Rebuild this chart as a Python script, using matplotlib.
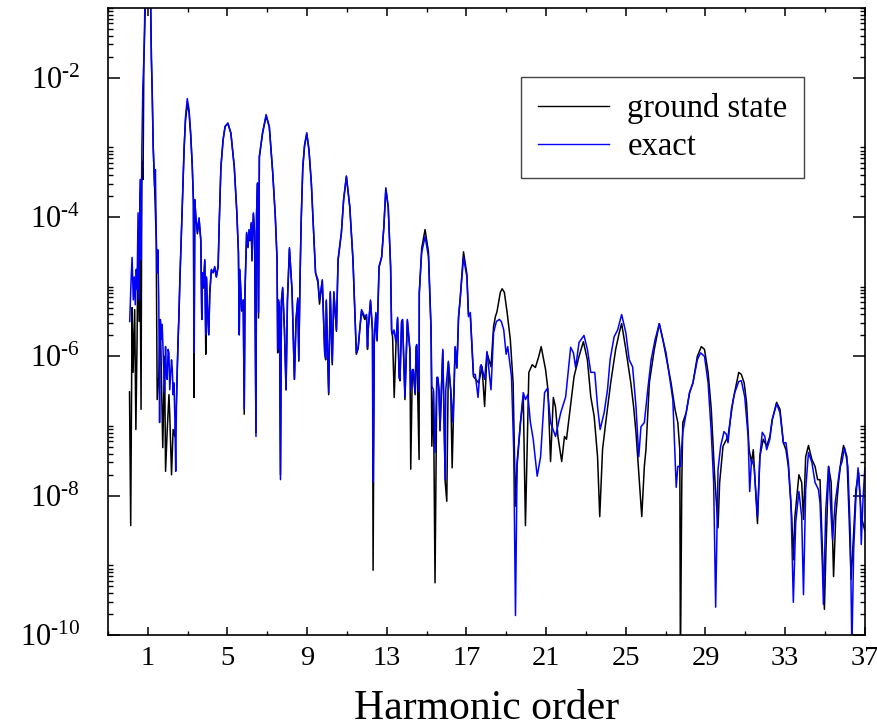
import numpy as np
import matplotlib
matplotlib.use("Agg")
import matplotlib.pyplot as plt
from matplotlib.ticker import FixedLocator, NullFormatter

plt.rcParams['font.family'] = ['Liberation Serif', 'DejaVu Serif']
plt.rcParams['mathtext.fontset'] = 'custom'
plt.rcParams['mathtext.rm'] = 'Liberation Serif'
plt.rcParams['mathtext.it'] = 'Liberation Serif:italic'

# HHG spectra: harmonic order vs. log10 of the spectral intensity
exact_order = [
    0.09, 0.16, 0.21, 0.27, 0.32, 0.37, 0.42, 0.46, 0.51, 0.56, 0.60, 0.63, 0.66, 0.70,
    0.75, 0.80, 0.83, 0.87, 0.95, 1.00, 1.08, 1.14, 1.18, 1.22, 1.27, 1.34, 1.38, 1.42,
    1.47, 1.50, 1.55, 1.59, 1.63, 1.67, 1.72, 1.78, 1.84, 1.89, 1.93, 1.97, 2.02, 2.06,
    2.10, 2.14, 2.19, 2.23, 2.27, 2.31, 2.36, 2.40, 2.44, 2.48, 2.52, 2.56, 2.61, 2.66,
    2.74, 2.82, 2.89, 2.98, 3.07, 3.15, 3.23, 3.29, 3.32, 3.36, 3.41, 3.49, 3.57, 3.66,
    3.71, 3.74, 3.79, 3.86, 3.91, 3.94, 3.99, 4.06, 4.11, 4.19, 4.28, 4.36, 4.44, 4.53,
    4.58, 4.67, 4.78, 4.88, 5.02, 5.17, 5.34, 5.47, 5.55, 5.59, 5.62, 5.71, 5.79, 5.84,
    5.88, 5.96, 6.03, 6.08, 6.13, 6.19, 6.23, 6.30, 6.36, 6.43, 6.46, 6.51, 6.56, 6.60,
    6.76, 6.94, 7.10, 7.27, 7.40, 7.49, 7.52, 7.56, 7.61, 7.66, 7.71, 7.77, 7.86, 7.94,
    8.01, 8.11, 8.24, 8.36, 8.44, 8.53, 8.58, 8.64, 8.70, 8.78, 8.87, 8.98, 9.09, 9.21,
    9.32, 9.42, 9.54, 9.62, 9.76, 9.88, 9.93, 9.96, 10.08, 10.16, 10.26, 10.34, 10.47,
    10.55, 10.72, 10.83, 10.97, 11.14, 11.30, 11.47, 11.56, 11.64, 11.73, 11.89, 11.98,
    12.03, 12.06, 12.18, 12.28, 12.31, 12.37, 12.45, 12.51, 12.61, 12.74, 12.85, 12.95,
    13.07, 13.19, 13.24, 13.29, 13.36, 13.46, 13.54, 13.62, 13.66, 13.74, 13.79, 13.82,
    13.91, 14.03, 14.16, 14.20, 14.28, 14.33, 14.42, 14.47, 14.50, 14.62, 14.63, 14.75,
    14.92, 15.09, 15.22, 15.26, 15.34, 15.42, 15.51, 15.56, 15.62, 15.67, 15.81, 15.93,
    15.96, 16.09, 16.21, 16.32, 16.43, 16.52, 16.60, 16.68, 16.85, 17.02, 17.10, 17.19,
    17.35, 17.44, 17.58, 17.69, 17.74, 17.91, 18.03, 18.23, 18.36, 18.50, 18.65, 18.75,
    18.87, 18.99, 19.07, 19.26, 19.37, 19.46, 19.54, 19.71, 19.85, 19.96, 20.08, 20.21,
    20.35, 20.55, 20.72, 20.92, 21.06, 21.22, 21.47, 21.73, 21.98, 22.23, 22.37, 22.48,
    22.65, 22.90, 23.07, 23.24, 23.44, 23.58, 23.71, 23.91, 24.08, 24.21, 24.41, 24.59,
    24.79, 25.00, 25.17, 25.34, 25.51, 25.65, 25.76, 25.93, 26.10, 26.27, 26.47, 26.68,
    26.86, 27.02, 27.19, 27.36, 27.53, 27.61, 27.74, 27.86, 28.03, 28.20, 28.37, 28.59,
    28.75, 28.95, 29.13, 29.29, 29.41, 29.51, 29.63, 29.76, 29.93, 30.05, 30.13, 30.30,
    30.47, 30.67, 30.80, 30.97, 31.14, 31.22, 31.31, 31.44, 31.61, 31.73, 31.85, 31.98,
    32.07, 32.23, 32.35, 32.57, 32.74, 32.91, 33.04, 33.16, 33.29, 33.41, 33.53, 33.69,
    33.83, 33.92, 34.03, 34.17, 34.34, 34.50, 34.67, 34.75, 34.87, 34.92, 35.04, 35.18,
    35.31, 35.38, 35.51, 35.65, 35.76, 35.85, 35.98, 36.15, 36.27, 36.35, 36.44, 36.55,
    36.66, 36.77, 36.82, 36.91, 37.00,
]
exact_log10 = [
    -5.50, -4.90, -4.58, -5.19, -4.86, -5.26, -4.75, -5.04, -3.94, -5.19, -3.75, -3.46, -4.61, -3.03,
    -2.13, -1.74, -1.35, -0.59, -0.02, -0.31, -0.16, -0.88, -1.74, -2.22, -2.99, -3.56, -3.32, -4.22,
    -4.80, -4.47, -5.19, -6.95, -5.47, -5.76, -5.54, -6.05, -6.52, -5.86, -6.26, -6.33, -5.90, -5.95,
    -6.48, -6.29, -6.05, -6.19, -6.55, -6.38, -6.91, -7.65, -6.62, -6.15, -5.76, -5.43, -4.90, -4.47,
    -3.75, -3.03, -2.57, -2.30, -2.46, -2.79, -3.25, -3.75, -5.95, -3.75, -3.99, -4.22, -4.01, -4.32,
    -5.47, -4.80, -5.00, -4.61, -5.69, -4.86, -5.29, -5.69, -5.08, -4.75, -4.80, -4.71, -4.86, -4.71,
    -4.14, -3.28, -2.89, -2.70, -2.65, -2.79, -3.28, -3.94, -4.51, -5.69, -4.75, -5.33, -5.19, -6.76,
    -5.04, -4.22, -4.42, -4.18, -4.32, -4.08, -4.61, -3.94, -4.22, -7.15, -3.94, -3.51, -5.37, -3.13,
    -2.79, -2.53, -2.70, -3.36, -3.99, -4.61, -5.90, -5.19, -5.29, -7.77, -5.19, -5.01, -5.62, -6.48,
    -5.19, -4.44, -5.04, -6.33, -5.47, -5.16, -6.05, -4.90, -4.04, -3.28, -2.96, -2.79, -3.03, -3.51,
    -4.18, -4.80, -4.90, -5.19, -4.90, -5.95, -6.02, -5.19, -6.52, -5.07, -6.09, -5.07, -5.62,
    -4.61, -4.22, -3.75, -3.41, -3.85, -4.61, -5.95, -5.87, -5.62, -5.33, -5.43, -5.40,
    -5.86, -5.62, -5.19, -5.62, -7.81, -5.76, -5.37, -5.76, -4.71, -4.57, -4.14, -3.58,
    -3.85, -4.71, -5.62, -5.69, -5.62, -5.80, -5.44, -6.29, -6.33, -5.50, -5.47, -5.76,
    -6.58, -5.47, -5.90, -6.48, -6.19, -6.19, -6.52, -5.86, -5.83, -6.51, -5.08, -4.51,
    -4.28, -4.57, -5.62, -6.43, -6.48, -7.38, -6.30, -6.30, -6.48, -7.05, -5.90, -7.77,
    -6.48, -6.07, -6.48, -6.95, -5.86, -6.15, -5.43, -5.19, -4.58, -4.86, -5.43, -5.37,
    -6.26, -6.26, -6.59, -6.15, -6.12, -6.33, -5.93, -6.48, -5.66, -5.50, -5.47, -5.50,
    -5.62, -5.97, -5.86, -6.29, -7.34, -9.72, -7.58, -6.95, -6.52, -6.62, -6.55, -6.95,
    -7.19, -7.72, -7.44, -6.52, -6.46, -6.95, -7.15, -6.81, -6.58, -5.87, -5.95, -6.16,
    -5.80, -5.70, -5.90, -6.23, -6.23, -6.72, -7.05, -6.81, -6.48, -6.05, -5.72, -5.62,
    -5.40, -5.66, -6.05, -6.15, -6.72, -7.44, -7.01, -6.95, -6.48, -6.05, -5.76, -5.53,
    -5.76, -5.95, -6.29, -6.62, -7.88, -7.58, -7.58, -7.09, -6.81, -6.52, -6.38, -6.05,
    -5.95, -6.00, -6.38, -7.09, -7.81, -9.60, -7.62, -7.29, -7.08, -7.12, -7.24, -6.76,
    -6.52, -6.36, -6.35, -6.58, -7.15, -7.94, -7.48, -7.58, -8.30, -7.44, -7.09, -7.15,
    -7.34, -7.19, -6.91, -6.68, -6.81, -7.24, -7.24, -7.52, -8.10, -9.53, -8.38, -7.94,
    -8.30, -9.42, -7.91, -7.38, -7.52, -7.81, -7.91, -8.10, -9.02, -9.56, -8.20, -7.58,
    -8.30, -8.63, -8.10, -7.81, -7.58, -7.52, -7.31, -7.58, -8.53, -10.20, -8.77, -8.05,
    -7.60, -8.05, -8.70, -8.05, -7.60,
]

ground_order = [
    0.08, 0.14, 0.21, 0.26, 0.34, 0.40, 0.46, 0.51, 0.56, 0.60, 0.66, 0.70, 0.76, 0.80,
    0.85, 0.95, 1.00, 1.05, 1.14, 1.18, 1.22, 1.27, 1.34, 1.42, 1.47, 1.55, 1.63, 1.75,
    1.84, 1.89, 1.97, 2.06, 2.10, 2.19, 2.27, 2.36, 2.44,
    2.52, 2.56, 2.61, 2.66, 2.74, 2.82, 2.89, 2.98, 3.07, 3.15, 3.23, 3.29, 3.32, 3.36,
    3.41, 3.49, 3.57, 3.66, 3.71, 3.74, 3.79, 3.86, 3.91, 3.94, 3.99, 4.06, 4.11, 4.19,
    4.28, 4.36, 4.44, 4.53, 4.58, 4.67, 4.78, 4.88, 5.02, 5.17, 5.34, 5.47, 5.55, 5.59,
    5.62, 5.71, 5.79, 5.84, 5.88, 5.96, 6.03, 6.08, 6.13, 6.19, 6.23, 6.30, 6.36, 6.43,
    6.46, 6.51, 6.56, 6.60, 6.76, 6.94, 7.10, 7.27, 7.40, 7.49, 7.52, 7.56, 7.61, 7.66,
    7.71, 7.77, 7.86, 7.94, 8.01, 8.11, 8.24, 8.36, 8.44, 8.53, 8.58, 8.64, 8.70, 8.78,
    8.87, 8.98, 9.09, 9.21, 9.32, 9.42, 9.54, 9.62, 9.76, 9.88, 9.93, 9.96, 10.08, 10.16,
    10.26, 10.34, 10.47, 10.55, 10.72, 10.83, 10.97, 11.14, 11.30, 11.47, 11.56, 11.64,
    11.73, 11.89, 11.98, 12.03, 12.06, 12.18, 12.28, 12.31, 12.37, 12.45, 12.51, 12.61,
    12.74, 12.85, 12.95, 13.07, 13.19, 13.24, 13.29, 13.37, 13.46, 13.54, 13.62, 13.66,
    13.74, 13.79, 13.82, 13.91, 14.03, 14.16, 14.20, 14.28, 14.33, 14.42, 14.47, 14.50,
    14.62, 14.63, 14.75, 14.92, 15.09, 15.22, 15.26, 15.34, 15.42, 15.51, 15.56, 15.62,
    15.67, 15.81, 15.93, 16.01, 16.09, 16.21, 16.28, 16.43, 16.52, 16.60, 16.68, 16.85,
    17.02, 17.10, 17.19, 17.35, 17.61, 17.78, 17.91, 18.03, 18.23, 18.36, 18.45, 18.53,
    18.70, 18.79, 18.90, 19.04, 19.20, 19.34, 19.46, 19.54, 19.71, 19.85, 19.96, 20.13,
    20.30, 20.46, 20.63, 20.75, 20.97, 21.09, 21.22, 21.36, 21.47, 21.59, 21.78, 21.92,
    22.02, 22.20, 22.40, 22.65, 22.87, 23.07, 23.24, 23.41, 23.58, 23.69, 23.83, 23.99,
    24.24, 24.49, 24.67, 24.79, 25.00, 25.25, 25.39, 25.51, 25.68, 25.80, 25.93, 26.01,
    26.18, 26.43, 26.68, 26.86, 27.02, 27.27, 27.47, 27.61, 27.71, 27.74, 27.81, 27.86,
    28.03, 28.20, 28.37, 28.59, 28.79, 28.95, 29.13, 29.29, 29.46, 29.63, 29.71, 29.88,
    30.13, 30.39, 30.56, 30.67, 30.80, 30.94, 31.06, 31.19, 31.31, 31.40, 31.61, 31.73,
    31.90, 32.07, 32.23, 32.35, 32.57, 32.74, 32.91, 33.04, 33.16, 33.33, 33.41, 33.49,
    33.69, 33.83, 33.92, 34.03, 34.17, 34.34, 34.50, 34.63, 34.75, 34.87, 34.97, 35.05,
    35.18, 35.31, 35.43, 35.54, 35.68, 35.81, 35.93, 36.10, 36.21, 36.31, 36.44, 36.55,
    36.69, 36.82, 37.00,
]
ground_log10 = [
    -6.51, -8.43, -5.30, -6.23, -5.33, -7.05, -5.76, -4.20, -5.50, -3.90, -6.76, -3.20, -3.46, -1.80,
    -1.20, -0.10, -1.00, -0.20, -0.90, -1.74, -2.20, -3.00, -3.56, -4.30, -6.62, -6.29, -5.50, -7.31,
    -6.00, -7.65, -7.08, -6.55, -6.83, -7.70, -7.05, -7.15, -6.62,
    -5.76, -5.43, -4.90, -4.47, -3.75, -3.03, -2.62, -2.38, -2.50, -2.82, -3.27, -3.80, -6.59, -3.80,
    -4.00, -4.24, -4.03, -4.34, -5.47, -4.82, -5.02, -4.63, -5.97, -4.88, -5.31, -5.69, -5.10, -4.77,
    -4.80, -4.73, -4.86, -4.71, -4.14, -3.28, -2.89, -2.70, -2.66, -2.80, -3.28, -3.94, -4.53, -5.69,
    -4.77, -5.35, -5.19, -6.83, -5.06, -4.24, -4.44, -4.20, -4.34, -4.10, -4.63, -3.96, -4.24, -7.10,
    -3.96, -3.52, -5.45, -3.14, -2.80, -2.55, -2.71, -3.36, -3.99, -4.63, -5.95, -5.22, -5.29, -7.70,
    -5.21, -5.03, -5.62, -6.48, -5.20, -4.46, -5.06, -6.33, -5.49, -5.18, -6.07, -4.92, -4.06, -3.30,
    -2.98, -2.81, -3.04, -3.52, -4.18, -4.80, -4.94, -5.25, -4.92, -5.95, -6.05, -5.21, -6.55, -5.09,
    -6.12, -5.09, -5.64, -4.63, -4.22, -3.76, -3.42, -3.86, -4.62, -5.97, -5.89, -5.62,
    -5.35, -5.47, -5.42, -5.90, -5.64, -5.21, -5.64, -9.07, -5.78, -5.39, -5.78, -4.72,
    -4.58, -4.15, -3.60, -3.86, -4.72, -5.64, -5.72, -6.59, -5.82, -5.46, -6.31, -6.35,
    -5.52, -5.49, -5.78, -6.62, -5.49, -5.92, -7.62, -6.21, -6.21, -6.55, -5.88, -5.85,
    -7.48, -5.10, -4.45, -4.18, -4.50, -5.60, -7.29, -6.50, -9.25, -6.33, -6.32, -6.50,
    -7.07, -5.92, -7.80, -8.08, -6.09, -6.50, -7.60, -5.87, -6.17, -5.45, -5.18, -4.50,
    -4.82, -5.40, -5.40, -6.29, -6.38, -6.15, -6.72, -5.95, -6.15, -5.57, -5.43, -5.36,
    -5.08, -5.03, -5.08, -5.37, -5.76, -6.38, -8.15, -7.52, -6.95, -6.58, -8.43, -6.23,
    -6.12, -6.16, -6.00, -5.86, -6.19, -6.48, -7.51, -6.59, -6.73, -7.15, -7.51, -7.15,
    -7.19, -6.76, -6.29, -6.00, -5.79, -6.05, -6.58, -6.86, -7.44, -8.30, -7.34, -6.95,
    -6.38, -5.90, -5.66, -5.53, -5.90, -6.38, -6.72, -7.09, -7.81, -8.30, -7.58, -7.34,
    -6.38, -5.90, -5.53, -5.76, -6.00, -6.38, -6.76, -6.95, -7.34, -10.50, -7.81, -6.95,
    -6.81, -6.52, -6.38, -6.00, -5.86, -5.90, -6.23, -6.76, -7.72, -8.46, -7.81, -7.29,
    -7.15, -6.62, -6.38, -6.23, -6.26, -6.38, -6.66, -7.34, -7.52, -7.34, -8.40, -7.44,
    -7.19, -7.29, -7.15, -6.91, -6.66, -6.76, -7.24, -7.34, -7.58, -8.30, -8.92, -8.30,
    -7.70, -7.81, -8.34, -7.44, -7.28, -7.48, -7.58, -7.77, -7.77, -8.77, -9.63, -8.77,
    -7.58, -7.81, -9.16, -8.30, -7.81, -7.48, -7.28, -7.44, -8.30, -9.20, -8.53, -7.91,
    -7.67, -8.30, -8.50,
]

x_major = [1, 5, 9, 13, 17, 21, 25, 29, 33, 37]
x_minor = [-1, 3, 7, 11, 15, 19, 23, 27, 31, 35]
y_major_exp = [-10, -8, -6, -4, -2]

fig = plt.figure(figsize=(8.78, 7.28), dpi=100)
ax = fig.add_axes([0.123, 0.1277, 0.862, 0.8613])

ax.plot(ground_order, 10.0 ** np.array(ground_log10), color='black', lw=1.1,
        label='ground state')
ax.plot(exact_order, 10.0 ** np.array(exact_log10), color='#0000ff', lw=1.1,
        label='exact')

ax.set_yscale('log')
ax.set_xlim(-1, 37)
ax.set_ylim(1e-10, 1e-1)

ax.xaxis.set_major_locator(FixedLocator(x_major))
ax.xaxis.set_minor_locator(FixedLocator(x_minor))
ax.set_xticklabels([str(v) for v in x_major])

ax.yaxis.set_major_locator(FixedLocator([10.0 ** e for e in y_major_exp]))
minor_y = [m * 10.0 ** e for e in y_major_exp for m in range(2, 11)]
ax.yaxis.set_minor_locator(FixedLocator(minor_y))
ax.yaxis.set_minor_formatter(NullFormatter())
# exponents written with a short hyphen, as in the printed figure
ax.set_yticklabels([r'$\mathregular{10^{%s%d}}$' % ('\u2010', abs(e)) for e in y_major_exp])

ax.tick_params(which='both', direction='in', top=True, right=True, color='black')
ax.tick_params(axis='x', which='major', length=6, width=1.1, labelsize=20.5, pad=8)
ax.tick_params(axis='x', which='minor', length=3, width=1.0)
ax.tick_params(axis='y', which='major', length=8.5, width=1.1, labelsize=22, pad=20)
ax.tick_params(axis='y', which='minor', length=3.6, width=1.0)

for s in ax.spines.values():
    s.set_linewidth(1.2)

ax.set_xlabel('Harmonic order', fontsize=30, labelpad=13)

leg = ax.legend(loc='upper left', bbox_to_anchor=(0.546, 0.89), fontsize=23.5,
                frameon=True, fancybox=False, framealpha=1, edgecolor='#444444',
                handlelength=2.2, handletextpad=0.55, borderpad=0.5,
                labelspacing=0.22, borderaxespad=0)
leg.get_frame().set_linewidth(1.0)
for line in leg.get_lines():
    line.set_linewidth(1.0)

fig.savefig('out.png', dpi=100)
